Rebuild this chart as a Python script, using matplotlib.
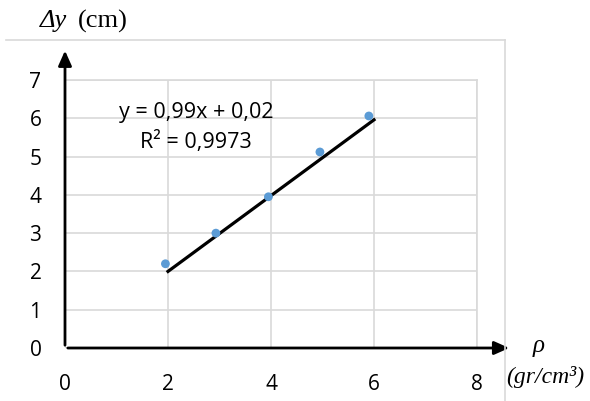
import numpy as np
import matplotlib.pyplot as plt
from matplotlib.lines import Line2D

# measured points
rho = [1.95, 2.93, 3.95, 4.95, 5.9]
dy = [2.2, 3.0, 3.95, 5.12, 6.06]

# trendline from the chart
slope = 0.99
intercept = 0.02
trend_x = np.array([2.0, 6.0])

x_ticks = [0, 2, 4, 6, 8]
y_ticks = [0, 1, 2, 3, 4, 5, 6, 7]

grid_col = '#d9d9d9'

fig = plt.figure(figsize=(5.9, 4.01), dpi=100)
ax = fig.add_axes([65/590, 53/401, 412/590, 268/401])

ax.set_xlim(0, 8)
ax.set_ylim(0, 7)
ax.set_xticks(x_ticks)
ax.set_yticks(y_ticks)
ax.grid(True, color=grid_col, linewidth=1.2)
ax.set_axisbelow(True)
for s in ['top', 'right']:
    ax.spines[s].set_color(grid_col)
    ax.spines[s].set_linewidth(1.2)
for s in ['left', 'bottom']:
    ax.spines[s].set_visible(False)

ax.tick_params(length=0, labelsize=15)
ax.tick_params(axis='y', pad=17)
ax.tick_params(axis='x', pad=19)
for lab in ax.get_xticklabels() + ax.get_yticklabels():
    lab.set_fontfamily('Open Sans')

ax.plot(trend_x, slope * trend_x + intercept, color='black', linewidth=2.3, zorder=3)
ax.scatter(rho, dy, s=40, color='#5b9bd5', zorder=4, edgecolors='none')

ax.text(2.54, 6.15, 'y = 0,99x + 0,02', ha='center', va='center', fontsize=15.5,
        family='Open Sans')
ax.text(2.54, 5.38, 'R² = 0,9973', ha='center', va='center', fontsize=15.5,
        family='Open Sans')

# axis arrows
ax.annotate('', xy=(0, 1.12), xytext=(0, 0), xycoords='axes fraction',
            arrowprops=dict(arrowstyle='-|>,head_length=0.9,head_width=0.4',
                            color='black', lw=2), annotation_clip=False)
ax.annotate('', xy=(1.085, 0), xytext=(0, 0), xycoords='axes fraction',
            arrowprops=dict(arrowstyle='-|>,head_length=0.9,head_width=0.4',
                            color='black', lw=2), annotation_clip=False)

# axis titles
fig.text(40/590, 1 - 21/401, 'Δy', fontsize=19, va='center', ha='left',
         family='Liberation Serif', style='italic')
fig.text(78/590, 1 - 21/401, '(cm)', fontsize=19, va='center', ha='left',
         family='Liberation Serif')
fig.text(539/590, 1 - 346/401, 'ρ', fontsize=18, va='center', ha='center',
         family='Liberation Serif', style='italic')
fig.text(545/590, 1 - 377/401, '(gr/cm³)', fontsize=17, va='center', ha='center',
         family='Liberation Serif', style='italic')

# outer frame pieces
fig.add_artist(Line2D([6/590, 505/590], [1 - 40/401, 1 - 40/401], color=grid_col, lw=1.2))
fig.add_artist(Line2D([505/590, 505/590], [1 - 40/401, 0], color=grid_col, lw=1.2))

fig.savefig('out.png', dpi=100)
